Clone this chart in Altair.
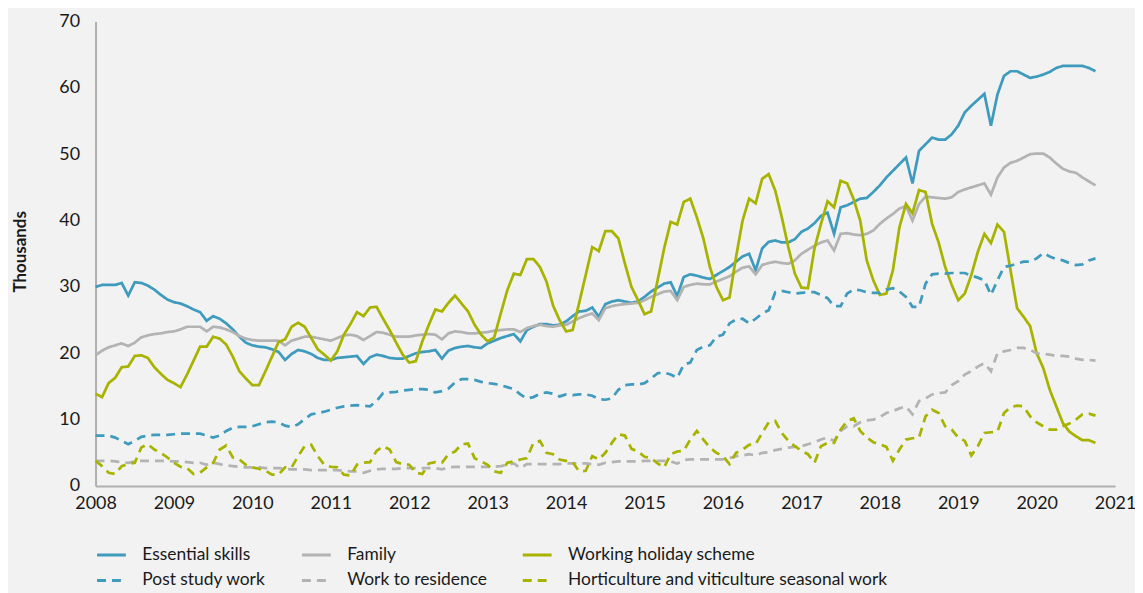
import altair as alt
import pandas as pd

START_YEAR = 2008  # monthly data, Jan 2008 - Oct 2020

series_order = [
    "Essential skills",
    "Family",
    "Working holiday scheme",
    "Post study work",
    "Work to residence",
    "Horticulture and viticulture seasonal work",
]
series_colors = ["#3f9bbd", "#b3b3b3", "#a8b300", "#3f9bbd", "#b3b3b3", "#a8b300"]
series_dash = [[1, 0], [1, 0], [1, 0], [9, 6], [9, 6], [9, 6]]

essential_skills = [
    30.0, 30.3, 30.3, 30.3, 30.6, 28.7, 30.7, 30.6, 30.2, 29.6, 28.8, 28.1,
    27.7, 27.5, 27.1, 26.6, 26.2, 24.9, 25.6, 25.2, 24.5, 23.6, 22.5, 21.6,
    21.2, 21.0, 20.9, 20.6, 20.2, 19.0, 19.9, 20.5, 20.3, 19.9, 19.3, 19.0,
    19.0, 19.3, 19.4, 19.5, 19.6, 18.4, 19.4, 19.8, 19.6, 19.3, 19.2, 19.2,
    19.6, 20.0, 20.2, 20.3, 20.5, 19.2, 20.4, 20.8, 21.0, 21.1, 20.9, 20.8,
    21.5, 21.9, 22.3, 22.6, 22.9, 21.8, 23.5, 24.0, 24.4, 24.4, 24.2, 24.3,
    24.8, 25.6, 26.3, 26.4, 26.9, 25.5, 27.4, 27.8, 28.0, 27.8, 27.6, 27.8,
    28.5, 29.3, 29.9, 30.5, 30.7, 28.6, 31.5, 31.9, 31.7, 31.4, 31.2, 31.8,
    32.4, 33.0, 33.8, 34.6, 35.0, 32.5, 35.8, 36.8, 37.0, 36.7, 36.7, 37.2,
    38.3, 38.8, 39.6, 40.7, 41.2, 38.0, 42.0, 42.3, 42.8, 43.3, 43.4, 44.3,
    45.3, 46.5, 47.5, 48.5, 49.5, 45.6, 50.5, 51.5, 52.5, 52.2, 52.2, 53.0,
    54.3, 56.3, 57.3, 58.2, 59.1, 54.3, 59.0, 61.8, 62.5, 62.5, 62.0, 61.5,
    61.7, 62.0, 62.4, 63.0, 63.3, 63.3, 63.3, 63.3, 63.0, 62.5,
]

family = [
    19.7, 20.4, 20.9, 21.2, 21.5, 21.1, 21.6, 22.4, 22.7, 22.9, 23.0, 23.2,
    23.3, 23.6, 24.0, 24.0, 24.0, 23.3, 24.0, 23.9, 23.6, 23.2, 22.6, 22.2,
    22.0, 21.9, 21.9, 21.9, 21.9, 21.2, 21.9, 22.2, 22.5, 22.5, 22.3, 22.1,
    21.9, 22.3, 22.7, 22.8, 22.6, 22.0, 22.6, 23.2, 23.1, 22.8, 22.5, 22.5,
    22.5, 22.7, 22.8, 22.9, 22.8, 22.1, 23.0, 23.3, 23.2, 23.0, 23.0, 23.1,
    23.2, 23.4, 23.5, 23.6, 23.6, 23.2, 23.8, 24.1, 24.3, 24.1, 24.0, 24.2,
    24.3, 24.8, 25.3, 25.7, 26.0, 25.0, 26.8, 27.1, 27.3, 27.4, 27.5, 27.6,
    28.0, 28.5, 28.9, 29.3, 29.4, 28.0, 30.0, 30.3, 30.5, 30.4, 30.4, 30.8,
    31.2, 31.6, 32.3, 32.9, 33.1, 31.9, 33.3, 33.6, 33.8, 33.6, 33.5, 34.0,
    35.0, 35.6, 36.2, 36.7, 37.0, 35.5, 38.0, 38.1, 37.9, 37.8, 38.0, 38.5,
    39.5, 40.3, 41.0, 41.8, 42.2, 40.0, 42.5, 43.6, 43.5, 43.4, 43.3, 43.5,
    44.3, 44.7, 45.0, 45.3, 45.6, 43.9, 46.5, 48.0, 48.7, 49.0, 49.5, 50.0,
    50.1, 50.1, 49.5, 48.6, 47.8, 47.4, 47.2, 46.5, 45.9, 45.3,
]

working_holiday = [
    13.9, 13.4, 15.5, 16.3, 17.9, 18.0, 19.6, 19.7, 19.3, 17.9, 16.9, 16.0,
    15.5, 14.9, 16.8, 18.9, 21.0, 21.0, 22.5, 22.2, 21.3, 19.5, 17.3, 16.2,
    15.2, 15.2, 17.3, 19.5, 21.7, 22.1, 24.0, 24.6, 24.0, 22.3, 20.6, 19.8,
    18.9, 20.3, 22.8, 24.4, 26.2, 25.6, 26.9, 27.0, 25.2, 23.5, 21.6, 19.8,
    18.6, 18.8, 21.8, 24.3, 26.6, 26.3, 27.6, 28.7, 27.5, 26.3, 24.3, 22.8,
    21.8, 22.4, 26.0, 29.5, 32.0, 31.8, 34.2, 34.2, 33.0, 30.8, 27.2, 25.0,
    23.3, 23.5, 27.6, 31.8, 36.0, 35.4, 38.4, 38.4, 37.3, 33.5, 30.0, 28.0,
    25.9, 26.3, 31.0, 35.8, 39.8, 39.4, 42.8, 43.3, 40.5, 37.3, 33.0, 30.0,
    28.0, 28.4, 34.5, 40.0, 43.3, 42.6, 46.3, 47.0, 44.5, 40.5, 36.0, 32.0,
    29.9, 29.8, 35.8, 39.5, 42.9, 42.0, 46.0, 45.6, 43.2, 40.0, 34.0, 31.0,
    28.8, 29.0, 32.5, 39.0, 42.5, 41.1, 44.6, 44.3, 39.5, 36.7, 33.0, 30.3,
    28.0, 29.0, 31.8, 35.3, 38.0, 36.6, 39.4, 38.3, 32.5, 26.8, 25.5, 24.1,
    20.0, 17.8, 14.5, 12.0, 9.5, 8.2, 7.5, 6.9, 6.9, 6.5,
]

post_study_work = [
    7.6, 7.6, 7.6, 7.3, 6.8, 6.3, 6.8, 7.4, 7.6, 7.7, 7.7, 7.7,
    7.8, 7.9, 7.9, 7.9, 7.9, 7.6, 7.3, 7.6, 8.3, 8.8, 8.9, 8.9,
    9.0, 9.3, 9.6, 9.7, 9.6, 9.1, 8.9, 9.3, 10.1, 10.8, 11.0, 11.2,
    11.5, 11.8, 12.0, 12.1, 12.2, 12.1, 12.0, 12.8, 14.0, 14.1, 14.2, 14.4,
    14.5, 14.6, 14.6, 14.5, 14.1, 14.3, 14.7, 15.6, 16.1, 16.1, 16.0, 15.7,
    15.5, 15.4, 15.2, 14.9, 14.6, 13.8, 13.2, 13.4, 13.9, 14.1, 13.9, 13.5,
    13.8, 13.7, 13.8, 13.8, 13.6, 13.1, 13.0, 13.2, 14.5, 15.2, 15.3, 15.3,
    15.5, 16.2, 17.0, 17.1, 16.8, 16.3, 18.3, 18.6, 20.5, 21.0, 21.2, 22.5,
    22.8, 24.5, 25.1, 25.2, 24.5, 25.2, 26.0, 26.5, 29.2, 29.4, 29.2, 29.0,
    29.1, 29.2, 29.2, 28.8, 28.3, 27.1, 27.1, 29.0, 29.6, 29.5, 29.2, 29.1,
    29.1, 29.6, 29.8, 29.3, 28.5, 27.0, 27.0, 30.5, 31.9, 32.0, 32.0, 32.1,
    32.1, 32.1, 31.7, 31.4, 31.0, 28.8, 31.0, 33.0, 33.2, 33.5, 33.8, 33.8,
    34.3, 35.1, 34.6, 34.2, 34.0, 33.6, 33.3, 33.4, 34.0, 34.3,
]

work_to_residence = [
    3.8, 3.8, 3.8, 3.7, 3.6, 3.5, 3.7, 3.8, 3.8, 3.8, 3.8, 3.8,
    3.7, 3.7, 3.6, 3.5, 3.5, 3.2, 3.5, 3.3, 3.1, 3.0, 2.9, 2.8,
    2.8, 2.8, 2.7, 2.7, 2.7, 2.6, 2.5, 2.5, 2.5, 2.4, 2.4, 2.4,
    2.4, 2.4, 2.3, 2.2, 2.2, 2.0, 2.3, 2.5, 2.6, 2.6, 2.6, 2.7,
    2.7, 2.7, 2.7, 2.7, 2.7, 2.5, 2.8, 2.9, 2.9, 2.9, 2.9, 2.9,
    2.9, 2.9, 3.0, 3.2, 3.4, 2.7, 3.3, 3.3, 3.3, 3.3, 3.3, 3.3,
    3.4, 3.4, 3.4, 3.4, 3.3, 3.2, 3.5, 3.6, 3.7, 3.7, 3.7, 3.7,
    3.8, 3.8, 3.8, 3.8, 3.7, 3.4, 3.9, 4.0, 4.0, 4.0, 4.0, 4.0,
    4.0, 4.2, 4.5, 4.6, 4.8, 4.6, 5.0, 5.1, 5.4, 5.6, 5.8, 5.9,
    6.0, 6.3, 6.6, 7.0, 7.3, 6.8, 8.3, 9.0, 9.0, 9.6, 9.9, 10.0,
    10.4, 11.0, 11.3, 11.7, 12.0, 10.8, 12.8, 13.2, 13.8, 14.0, 14.1, 15.2,
    15.8, 16.8, 17.3, 18.0, 18.5, 17.3, 20.0, 20.3, 20.5, 20.8, 20.8, 20.5,
    20.0, 19.9, 19.8, 19.6, 19.6, 19.5, 19.2, 19.0, 19.0, 18.9,
]

horticulture = [
    3.8, 3.0, 2.0, 1.8, 3.0, 3.3, 3.5, 5.8, 6.3, 5.5, 5.0, 4.3,
    3.5, 2.9, 2.7, 1.8, 2.0, 2.8, 3.5, 5.5, 6.1, 4.3, 4.0, 3.2,
    2.8, 2.6, 2.3, 1.7, 1.7, 2.8, 2.8, 4.5, 6.0, 6.2, 4.5, 3.2,
    2.9, 2.8, 1.7, 1.6, 3.2, 3.5, 3.6, 5.3, 6.0, 5.5, 3.6, 3.3,
    3.2, 2.0, 1.8, 3.4, 3.6, 3.5, 4.8, 5.2, 6.3, 6.4, 4.2, 3.7,
    3.2, 2.2, 2.0, 3.5, 3.7, 4.0, 4.2, 6.5, 6.8, 5.0, 4.8, 4.0,
    3.8, 3.6, 2.2, 2.3, 4.5, 4.0, 5.0, 6.5, 7.8, 7.6, 5.6, 5.2,
    4.4, 4.2, 3.4, 2.8, 4.8, 5.2, 5.3, 7.0, 8.3, 7.0, 5.8, 5.0,
    4.5, 3.3, 5.0, 5.5, 6.2, 6.3, 8.0, 9.6, 9.8, 8.0, 6.8, 6.0,
    5.3, 4.8, 3.5, 6.0, 6.5, 6.5, 8.5, 9.8, 10.2, 8.3, 7.3, 6.6,
    6.3, 5.9, 3.8, 5.5, 7.0, 7.2, 7.3, 10.5, 11.5, 11.0, 9.0, 8.5,
    7.3, 6.8, 4.6, 6.0, 8.0, 8.1, 8.2, 11.0, 11.9, 12.1, 12.0, 10.5,
    9.6, 9.0, 8.5, 8.5, 9.0, 9.4, 10.0, 10.8, 10.9, 10.6,
]

year_ticks = list(range(2008, 2022))
value_ticks = [0, 10, 20, 30, 40, 50, 60, 70]

all_series = [essential_skills, family, working_holiday,
              post_study_work, work_to_residence, horticulture]

rows = []
for name, vals in zip(series_order, all_series):
    for i, v in enumerate(vals):
        rows.append({"series": name, "t": START_YEAR + i / 12.0, "v": v})
df = pd.DataFrame(rows)

FONT = "Lato"
TEXT = "#1a1a1a"
AXIS = "#b0b0b0"

legend = alt.Legend(
    title=None,
    orient="none",
    legendX=0,
    legendY=520,
    direction="horizontal",
    columns=3,
    gridAlign="each",
    columnPadding=29,
    rowPadding=1,
    symbolType="stroke",
    symbolSize=841,
    symbolStrokeWidth=3,
    labelFontSize=17.5,
    labelFont=FONT,
    labelColor=TEXT,
    labelOffset=15,
    labelLimit=0,
    padding=0,
)

chart = (
    alt.Chart(df)
    .mark_line(strokeWidth=2.75, strokeCap="butt", strokeJoin="miter")
    .encode(
        x=alt.X(
            "t:Q",
            scale=alt.Scale(domain=[2008, 2021], nice=False, zero=False),
            axis=alt.Axis(
                values=year_ticks, format="d", title=None, grid=False, ticks=False,
                labelFontSize=18, labelFont=FONT, labelColor=TEXT, labelPadding=9,
                labelFlush=False, labelOverlap=False,
                domainColor=AXIS, domainWidth=2,
            ),
        ),
        y=alt.Y(
            "v:Q",
            scale=alt.Scale(domain=[0, 70], nice=False),
            axis=alt.Axis(
                values=value_ticks, title="Thousands", grid=False, ticks=False,
                labelFontSize=18, labelFont=FONT, labelColor=TEXT, labelPadding=16,
                domainColor=AXIS, domainWidth=2,
                titleFont=FONT, titleFontSize=17, titleFontWeight="bold", titleColor=TEXT,
                titleX=-75, titleY=231, titleAngle=270, titleAlign="center",
                titleBaseline="middle",
            ),
        ),
        color=alt.Color(
            "series:N",
            scale=alt.Scale(domain=series_order, range=series_colors),
            legend=legend,
        ),
        strokeDash=alt.StrokeDash(
            "series:N",
            scale=alt.Scale(domain=series_order, range=series_dash),
            legend=legend,
        ),
        detail="series:N",
    )
    .properties(
        width=1025,
        height=467,
        autosize=alt.AutoSizeParams(type="none"),
        padding={"left": 88, "top": 12, "right": 20, "bottom": 106},
    )
    .configure(background="#f2f2f2")
    .configure_view(stroke=None)
)

chart.save("out.html", embed_options={"renderer": "svg", "actions": False})
